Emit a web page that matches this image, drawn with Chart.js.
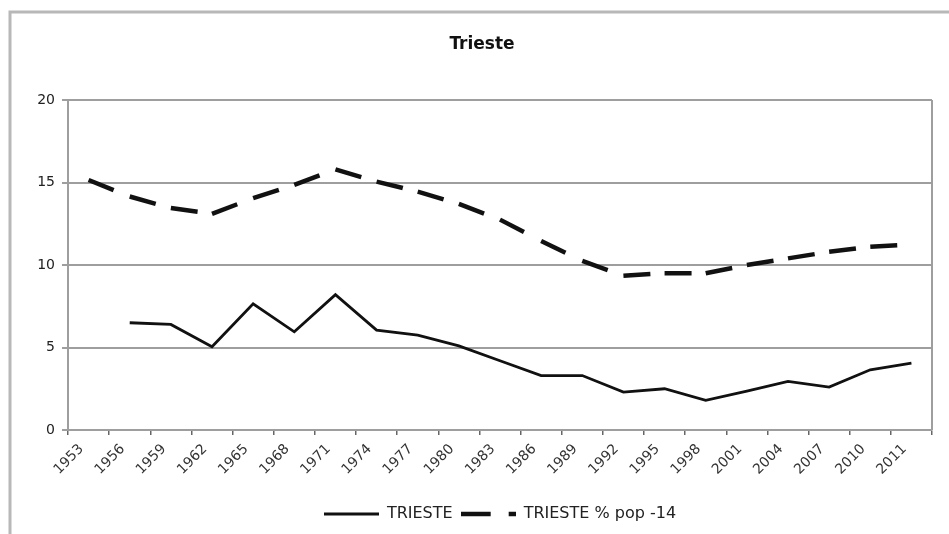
<!DOCTYPE html>
<html>
<head>
<meta charset="utf-8">
<title>Trieste</title>
<script src="https://cdn.jsdelivr.net/npm/chart.js@4.4.1/dist/chart.umd.min.js"></script>
<style>
  html, body { margin: 0; padding: 0; background: #fff; }
  #wrap { width: 949px; height: 534px; position: relative; }
</style>
</head>
<body>
<div id="wrap"><canvas id="triesteChart"></canvas></div>
<script>
const years = ['1953', '1956', '1959', '1962', '1965', '1968', '1971', '1974', '1977', '1980',
               '1983', '1986', '1989', '1992', '1995', '1998', '2001', '2004', '2007', '2010', '2011'];
const trieste = [null, 6.5, 6.4, 5.05, 7.65, 5.95, 8.2, 6.05, 5.75, 5.1,
                 4.2, 3.3, 3.3, 2.3, 2.5, 1.8, 2.35, 2.95, 2.6, 3.65, 4.05];
const triestePop14 = [15.15, 14.15, 13.45, 13.1, 14.05, 14.85, 15.8, 15.05, 14.45, 13.7,
                      12.75, 11.45, 10.25, 9.35, 9.5, 9.5, 10.0, 10.4, 10.8, 11.1, 11.25];
const seriesNames = ['TRIESTE', 'TRIESTE % pop -14'];
const yMin = 0, yMax = 20, yStep = 5;

Chart.defaults.font.family = "'DejaVu Sans', Verdana, sans-serif";
Chart.defaults.color = '#222';

const gridGray = '#9e9e9e';
const dashPattern = [27, 40];
const sampleWidth = 55;

// little canvases used as legend samples (point style 'line' ignores dashes)
function makeSample(width, lineWidth, dash) {
  const c = document.createElement('canvas');
  c.width = width;
  c.height = 6;
  const g = c.getContext('2d');
  g.strokeStyle = '#111';
  g.lineWidth = lineWidth;
  g.setLineDash(dash);
  g.beginPath();
  g.moveTo(0, 3);
  g.lineTo(width, 3);
  g.stroke();
  return c;
}
const legendSamples = [
  makeSample(sampleWidth, 2.8, []),
  makeSample(sampleWidth, 4.5, [30, 18])
];

// outer chart frame + right edge of the plot area, and centre title/legend like the original
const framePlugin = {
  id: 'frame',
  beforeDraw(chart) {
    const ctx = chart.ctx;
    const a = chart.chartArea;
    ctx.save();
    ctx.strokeStyle = '#b8b8b8';
    ctx.lineWidth = 3;
    ctx.beginPath();
    ctx.moveTo(10, chart.height);
    ctx.lineTo(10, 12);
    ctx.lineTo(chart.width, 12);
    ctx.stroke();
    ctx.strokeStyle = gridGray;
    ctx.lineWidth = 2;
    ctx.beginPath();
    ctx.moveTo(a.right, a.top);
    ctx.lineTo(a.right, a.bottom);
    ctx.stroke();
    ctx.restore();
    if (chart.legend) {
      chart.legend.left = a.left;
      chart.legend.right = a.right;
    }
    if (chart.titleBlock) {
      chart.titleBlock.left = 10;
      chart.titleBlock.right = 954;
    }
  }
};

new Chart(document.getElementById('triesteChart'), {
  type: 'line',
  data: {
    labels: years,
    datasets: [{
      label: seriesNames[0],
      data: trieste,
      borderColor: '#111',
      backgroundColor: '#111',
      borderWidth: 2.8,
      pointRadius: 0,
      tension: 0,
      fill: false
    }, {
      label: seriesNames[1],
      data: triestePop14,
      borderColor: '#111',
      backgroundColor: '#111',
      borderWidth: 4.5,
      borderDash: dashPattern,
      // restart the dash at every point, as Excel does
      segment: {
        borderDashOffset: c => (c.p0DataIndex % 2) * 0.001
      },
      pointRadius: 0,
      tension: 0,
      fill: false
    }]
  },
  options: {
    responsive: true,
    maintainAspectRatio: false,
    animation: false,
    layout: { padding: { left: 0, right: 17, top: 0, bottom: 2 } },
    plugins: {
      title: {
        display: true,
        text: 'Trieste',
        color: '#111',
        font: { size: 17, weight: 'bold' },
        padding: { top: 34, bottom: 45.6 }
      },
      legend: {
        position: 'bottom',
        labels: {
          usePointStyle: true,
          pointStyleWidth: sampleWidth,
          padding: 8,
          color: '#222',
          font: { size: 16 },
          generateLabels(chart) {
            const items = Chart.defaults.plugins.legend.labels.generateLabels(chart);
            items.forEach((it, i) => { it.pointStyle = legendSamples[i]; });
            return items;
          }
        }
      },
      tooltip: { enabled: false }
    },
    scales: {
      x: {
        offset: true,
        grid: {
          offset: true,
          drawOnChartArea: false,
          drawTicks: true,
          tickLength: 5,
          tickColor: '#666',
          lineWidth: 1.5
        },
        border: { display: true, color: gridGray, width: 2 },
        ticks: {
          autoSkip: false,
          maxRotation: 45,
          minRotation: 45,
          padding: 6,
          labelOffset: -7,
          color: '#333',
          font: { size: 14 }
        },
        afterFit(scale) { scale.height = 68; }
      },
      y: {
        min: yMin,
        max: yMax,
        grid: {
          color: gridGray,
          lineWidth: 2,
          drawTicks: true,
          tickLength: 6
        },
        border: { display: true, color: gridGray, width: 2 },
        ticks: {
          stepSize: yStep,
          padding: 7,
          color: '#222',
          font: { size: 14 }
        },
        afterFit(scale) { scale.width = 68; }
      }
    }
  },
  plugins: [framePlugin]
});
</script>
</body>
</html>
